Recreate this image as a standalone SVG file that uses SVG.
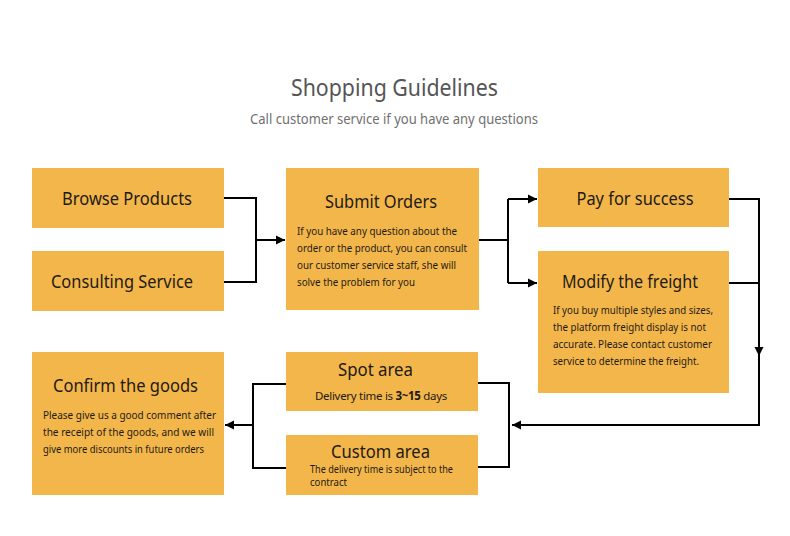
<svg xmlns="http://www.w3.org/2000/svg" width="790" height="536" viewBox="0 0 790 536">
<defs>
<marker id="arr" markerUnits="userSpaceOnUse" markerWidth="10" markerHeight="10" refX="9" refY="5" orient="auto">
<path d="M0,0.5 L9,5 L0,9.5 z" fill="#000"/>
</marker>
<style>
.box{fill:#F3B64B}
.t{font-family:"Noto Sans","Open Sans","Liberation Sans",sans-serif;fill:#1e1a14}
.h{font-size:18px;text-anchor:middle}
.b{font-size:11.5px}
.c{fill:none;stroke:#000;stroke-width:2}
</style>
</defs>
<rect width="790" height="536" fill="#fff"/>
<text class="t" x="394.5" y="96" font-size="23" text-anchor="middle" style="fill:#555" textLength="207" lengthAdjust="spacingAndGlyphs">Shopping Guidelines</text>
<text class="t" x="394" y="124" font-size="15" text-anchor="middle" style="fill:#707070" textLength="288" lengthAdjust="spacingAndGlyphs">Call customer service if you have any questions</text>

<g id="browse">
<rect class="box" x="32" y="168" width="192" height="60"/>
<text class="t h" x="127" y="205" textLength="130" lengthAdjust="spacingAndGlyphs">Browse Products</text>
</g>
<g id="consulting">
<rect class="box" x="32" y="251" width="192" height="60"/>
<text class="t h" x="122" y="288" textLength="142" lengthAdjust="spacingAndGlyphs">Consulting Service</text>
</g>
<g id="submit">
<rect class="box" x="286" y="168" width="193" height="142"/>
<text class="t h" x="381" y="208" textLength="112" lengthAdjust="spacingAndGlyphs">Submit Orders</text>
<text class="t b" x="297" y="235" textLength="160" lengthAdjust="spacingAndGlyphs">If you have any question about the</text>
<text class="t b" x="297" y="252" textLength="170" lengthAdjust="spacingAndGlyphs">order or the product, you can consult</text>
<text class="t b" x="297" y="269" textLength="159" lengthAdjust="spacingAndGlyphs">our customer service staff, she will</text>
<text class="t b" x="297" y="286" textLength="118" lengthAdjust="spacingAndGlyphs">solve the problem for you</text>
</g>
<g id="pay">
<rect class="box" x="538" y="168" width="191" height="59"/>
<text class="t h" x="635" y="205" textLength="117" lengthAdjust="spacingAndGlyphs">Pay for success</text>
</g>
<g id="modify">
<rect class="box" x="538" y="251" width="191" height="142"/>
<text class="t h" x="630" y="288" textLength="136" lengthAdjust="spacingAndGlyphs">Modify the freight</text>
<text class="t b" x="553" y="314" textLength="160" lengthAdjust="spacingAndGlyphs">If you buy multiple styles and sizes,</text>
<text class="t b" x="553" y="331" textLength="153" lengthAdjust="spacingAndGlyphs">the platform freight display is not</text>
<text class="t b" x="553" y="348" textLength="159" lengthAdjust="spacingAndGlyphs">accurate. Please contact customer</text>
<text class="t b" x="553" y="365" textLength="146" lengthAdjust="spacingAndGlyphs">service to determine the freight.</text>
</g>
<g id="confirm">
<rect class="box" x="32" y="352" width="192" height="143"/>
<text class="t h" x="125.5" y="392" textLength="145" lengthAdjust="spacingAndGlyphs">Confirm the goods</text>
<text class="t b" x="43" y="419" textLength="173" lengthAdjust="spacingAndGlyphs">Please give us a good comment after</text>
<text class="t b" x="43" y="436" textLength="171" lengthAdjust="spacingAndGlyphs">the receipt of the goods, and we will</text>
<text class="t b" x="43" y="453" textLength="161" lengthAdjust="spacingAndGlyphs">give more discounts in future orders</text>
</g>
<g id="spot">
<rect class="box" x="286" y="352" width="192" height="59"/>
<text class="t h" x="375.5" y="376" textLength="75" lengthAdjust="spacingAndGlyphs">Spot area</text>
<text class="t" x="381" y="400" font-size="11.5" letter-spacing="-0.3" text-anchor="middle">Delivery time is <tspan font-weight="bold">3~15</tspan> days</text>
</g>
<g id="custom">
<rect class="box" x="286" y="435" width="192" height="60"/>
<text class="t h" x="380.5" y="458" textLength="99" lengthAdjust="spacingAndGlyphs">Custom area</text>
<text class="t" x="310" y="473" font-size="10.5" textLength="143" lengthAdjust="spacingAndGlyphs">The delivery time is subject to the</text>
<text class="t" x="310" y="486" font-size="10.5" textLength="37" lengthAdjust="spacingAndGlyphs">contract</text>
</g>

<g id="connectors">
<path class="c" d="M224,198 H256 V282 H224"/>
<path class="c" d="M256,240 H285" marker-end="url(#arr)"/>
<path class="c" d="M479,240 H508"/>
<path class="c" d="M508,199 V283"/>
<path class="c" d="M508,199 H537" marker-end="url(#arr)"/>
<path class="c" d="M508,283 H537" marker-end="url(#arr)"/>
<path class="c" d="M729,199 H759 V425 H512" marker-end="url(#arr)"/>
<path class="c" d="M729,283 H759"/>
<path class="c" d="M759,330 V356" marker-end="url(#arr)"/>
<path class="c" d="M478,383 H509 V467 H478"/>
<path class="c" d="M286,384 H253 V468 H286"/>
<path class="c" d="M253,425 H225" marker-end="url(#arr)"/>
</g>
</svg>
